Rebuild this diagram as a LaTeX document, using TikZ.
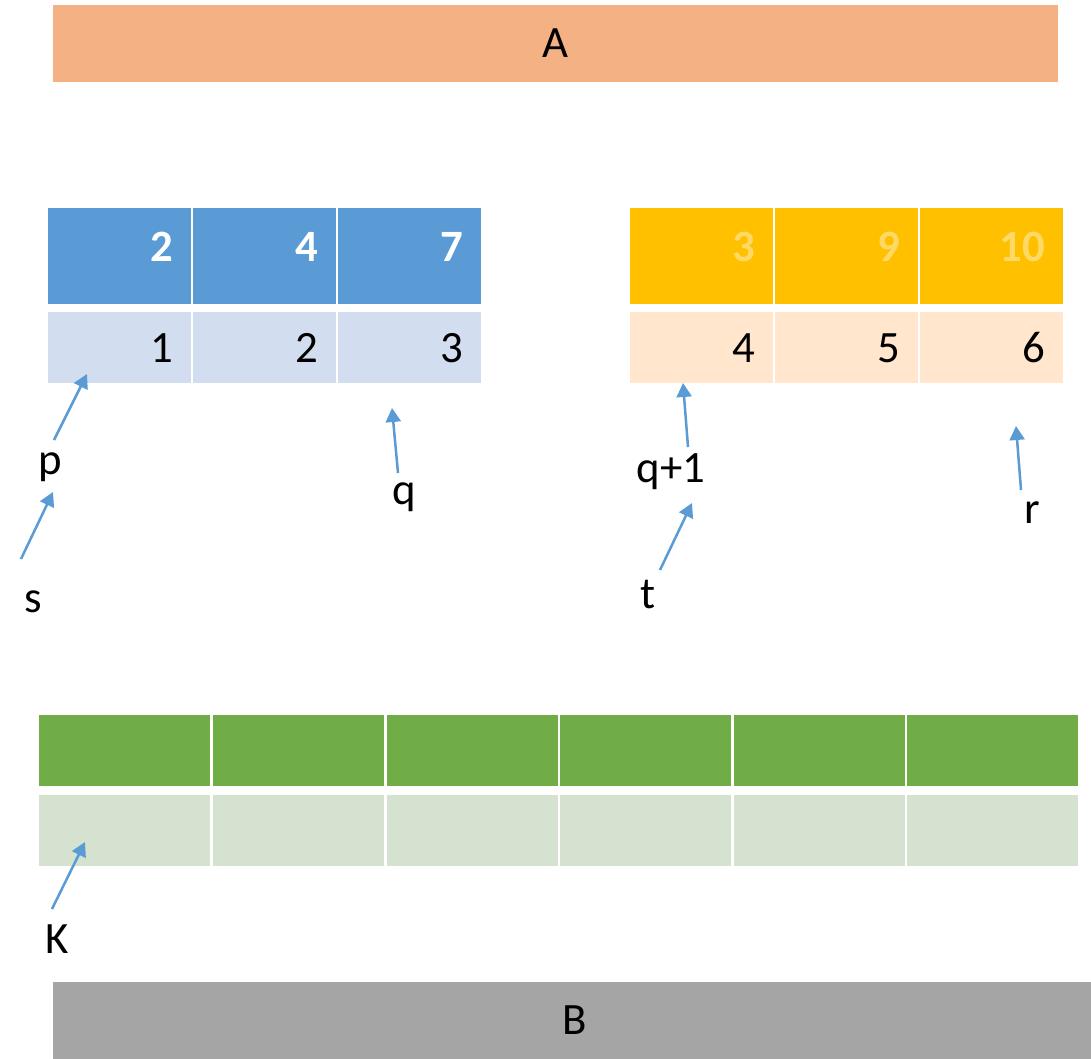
\documentclass[tikz,border=0pt]{standalone}
\usepackage{fontspec}
\setmainfont{Carlito}
\usetikzlibrary{arrows.meta, positioning}
\definecolor{Peach}{HTML}{F4B183}
\definecolor{Grey}{HTML}{A5A5A5}
\definecolor{Blue}{HTML}{5B9BD5}
\definecolor{LightBlue}{HTML}{D2DEEF}
\definecolor{Gold}{HTML}{FFC000}
\definecolor{PaleGold}{HTML}{FFD966}
\definecolor{LightGold}{HTML}{FFE6CC}
\definecolor{Green}{HTML}{70AD47}
\definecolor{LightGreen}{HTML}{D5E2CF}

\begin{document}
\begin{tikzpicture}[x=0.02cm, y=-0.02cm, >=Stealth, font=\fontsize{25.5}{30}\selectfont,
  bar/.style={minimum width=20.1cm, minimum height=1.54cm, inner sep=0},
  cell/.style={anchor=north west, inner sep=0, inner xsep=0.36cm, text width=2.13cm, align=right,
    minimum height=1.42cm, text height=0.57cm, text depth=0pt},
  head/.style={cell, minimum height=1.92cm, text depth=0.36cm, font=\fontsize{25.5}{30}\selectfont\bfseries},
  gcell/.style={cell, text width=2.7cm},
  ptr/.style={draw=Blue, line width=0.05cm, -{Triangle[length=0.28cm, width=0.3cm]}},
  lbl/.style={anchor=base, inner sep=0}]
  \useasboundingbox (0,0) rectangle (1091,1058);

  \node[bar, fill=Peach] (A) at (555.5,43.5) {A};
  \node[bar, fill=Grey, minimum width=20.88cm] (B) at (575,1020) {B};

  \foreach \v [count=\i] in {2,4,7}
    \node[head, fill=Blue, text=white] (bh\i) at ({48+(\i-1)*145},208) {\v};
  \foreach \v [count=\i] in {1,2,3}
    \node[cell, fill=LightBlue] (bl\i) at ({48+(\i-1)*145},312) {\v};
  \foreach \v [count=\i] in {3,9,10}
    \node[head, fill=Gold, text=PaleGold] (oh\i) at ({630+(\i-1)*145},208) {\v};
  \foreach \v [count=\i] in {4,5,6}
    \node[cell, fill=LightGold] (ol\i) at ({630+(\i-1)*145},312) {\v};
  \foreach \i in {1,...,6} {
    \node[gcell, fill=Green] (gh\i) at ({39+(\i-1)*173.6},715) {};
    \node[gcell, fill=LightGreen] (gl\i) at ({39+(\i-1)*173.6},795) {};
  }

  \node[lbl] (lp) at (50,474) {p};
  \node[lbl] (ls) at (33,612) {s};
  \node[lbl] (lq) at (404,504) {q};
  \node[lbl] (lq1) at (671,482) {q+1};
  \node[lbl] (lt) at (648,608) {t};
  \node[lbl] (lr) at (1032,523) {r};
  \node[lbl] (lK) at (57,953) {K};

  \coordinate (pTail) at (54,440);   \coordinate (pTip) at (87,374);
  \coordinate (sTail) at (21,559);   \coordinate (sTip) at (53,492);
  \coordinate (qTail) at (398,473);  \coordinate (qTip) at (392,408);
  \coordinate (q1Tail) at (688,447); \coordinate (q1Tip) at (683,383);
  \coordinate (tTail) at (660,570);  \coordinate (tTip) at (692,503);
  \coordinate (rTail) at (1021,490); \coordinate (rTip) at (1016,426);
  \coordinate (KTail) at (52,909);   \coordinate (KTip) at (85,842);
  \foreach \a in {p,s,q,q1,t,r,K}
    \draw[ptr] (\a Tail) -- (\a Tip);
\end{tikzpicture}
\end{document}
